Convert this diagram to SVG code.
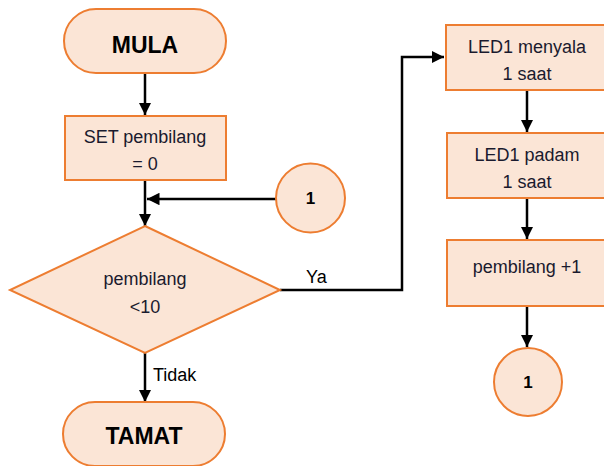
<svg xmlns="http://www.w3.org/2000/svg" width="604" height="466" viewBox="0 0 604 466">
<style>
.shape{fill:#FBE5D6;stroke:#ED7D31;stroke-width:2}
.t{font-family:"Liberation Sans",Arial,sans-serif;font-size:18px;fill:#1A1A2E;text-anchor:middle}
.b{font-family:"Liberation Sans",Arial,sans-serif;font-size:23px;font-weight:bold;fill:#000;text-anchor:middle}
.c{font-family:"Liberation Sans",Arial,sans-serif;font-size:17px;font-weight:bold;fill:#000;text-anchor:middle}
.l{font-family:"Liberation Sans",Arial,sans-serif;font-size:18px;fill:#000}
.con{fill:none;stroke:#000;stroke-width:2.5}
</style>
<defs>
<marker id="ah" viewBox="0 0 10 10" refX="10" refY="5" markerWidth="5" markerHeight="5" markerUnits="strokeWidth" orient="auto">
<path d="M0,0 L10,5 L0,10 z" fill="#000"/>
</marker>
</defs>
<g id="connectors">
<path class="con" d="M145,73 V115" marker-end="url(#ah)"/>
<path class="con" d="M145,180 V226" marker-end="url(#ah)"/>
<path class="con" d="M276,199 H147" marker-end="url(#ah)"/>
<path class="con" d="M145,353 V402" marker-end="url(#ah)"/>
<path class="con" d="M280,290 H402 V57 H444" marker-end="url(#ah)"/>
<path class="con" d="M527,90 V132" marker-end="url(#ah)"/>
<path class="con" d="M527,198 V239" marker-end="url(#ah)"/>
<path class="con" d="M527,306 V347" marker-end="url(#ah)"/>
<text class="l" x="153" y="381">Tidak</text>
<text class="l" x="306" y="283">Ya</text>
</g>
<g id="mula">
<rect class="shape" x="64" y="9" width="162" height="64" rx="32"/>
<text class="b" x="145" y="53">MULA</text>
</g>
<g id="set">
<rect class="shape" x="65" y="116" width="161" height="64"/>
<text class="t" x="145" y="143">SET pembilang</text>
<text class="t" x="145" y="170">= 0</text>
</g>
<g id="conn1a">
<circle class="shape" cx="310.5" cy="198" r="34.5"/>
<text class="c" x="310.5" y="204">1</text>
</g>
<g id="decision">
<polygon class="shape" points="145,226 280,290 145,353 10,290"/>
<text class="t" x="145" y="285">pembilang</text>
<text class="t" x="145" y="313">&lt;10</text>
</g>
<g id="tamat">
<rect class="shape" x="63" y="402" width="162" height="64" rx="32"/>
<text class="b" x="144" y="444">TAMAT</text>
</g>
<g id="led_on">
<rect class="shape" x="446" y="25" width="162" height="65"/>
<text class="t" x="527" y="53">LED1 menyala</text>
<text class="t" x="527" y="80">1 saat</text>
</g>
<g id="led_off">
<rect class="shape" x="447" y="133" width="162" height="65"/>
<text class="t" x="527" y="161">LED1 padam</text>
<text class="t" x="527" y="188">1 saat</text>
</g>
<g id="inc">
<rect class="shape" x="447" y="240" width="162" height="66"/>
<text class="t" x="527" y="273">pembilang +1</text>
</g>
<g id="conn1b">
<circle class="shape" cx="528" cy="382" r="34"/>
<text class="c" x="528" y="388">1</text>
</g>
</svg>
